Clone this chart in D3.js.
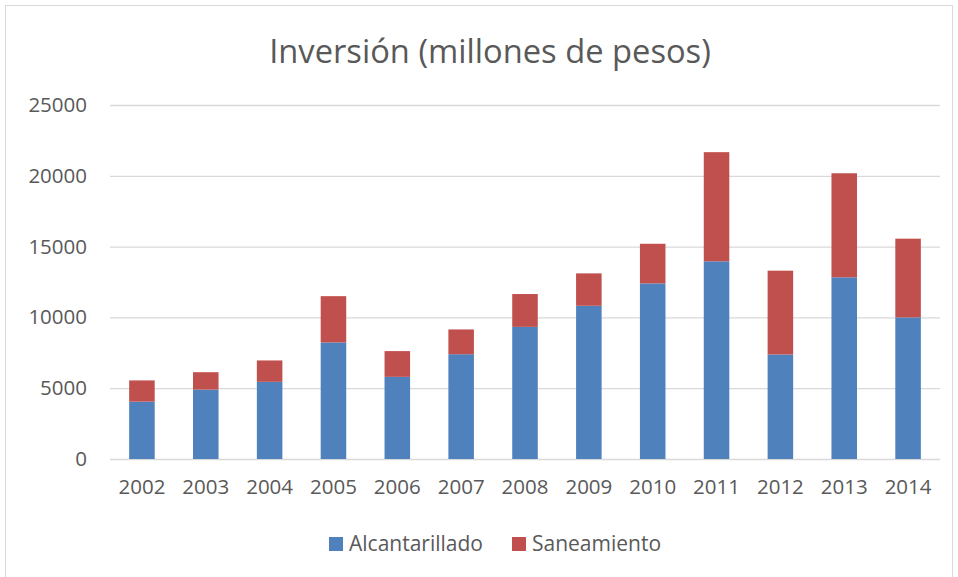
<!DOCTYPE html>
<html>
<head>
<meta charset="utf-8">
<script src="https://cdn.jsdelivr.net/npm/d3@7"></script>
<style>
  body { margin: 0; background: #fff; }
  svg text { font-family: "Open Sans", "Lato", sans-serif; }
</style>
</head>
<body>
<svg id="chart" width="958" height="577"></svg>
<script>
var years = ["2002", "2003", "2004", "2005", "2006", "2007", "2008", "2009", "2010", "2011", "2012", "2013", "2014"];
var alcantarillado = [4050, 4900, 5450, 8230, 5800, 7400, 9330, 10820, 12400, 13960, 7380, 12830, 10000];
var saneamiento = [1500, 1230, 1510, 3270, 1820, 1750, 2320, 2290, 2800, 7710, 5920, 7350, 5560];
var seriesNames = ["Alcantarillado", "Saneamiento"];
var yTicks = [0, 5000, 10000, 15000, 20000, 25000];
var colors = ["#4F81BD", "#C0504D"];

var svg = d3.select("#chart");
var margin = { left: 110, right: 18, top: 105, bottom: 118 };

svg.append("rect")
  .attr("x", 5.5).attr("y", 5.5)
  .attr("width", 947).attr("height", 580)
  .attr("fill", "#fff").attr("stroke", "#d9d9d9");

var rows = years.map(function (y, i) {
  return { year: y, Alcantarillado: alcantarillado[i], Saneamiento: saneamiento[i] };
});
var stacked = d3.stack().keys(seriesNames)(rows);

var x = d3.scaleBand().domain(years)
  .range([margin.left, 940])
  .paddingInner(0.6).paddingOuter(0.3);
var y = d3.scaleLinear().domain([0, 25000]).range([459, 105]);

// grid
svg.append("g").selectAll("line").data(yTicks).enter().append("line")
  .attr("x1", margin.left).attr("x2", 940)
  .attr("y1", function (d) { return y(d) + 0.5; })
  .attr("y2", function (d) { return y(d) + 0.5; })
  .attr("stroke", "#d9d9d9").attr("stroke-width", 1.3);

// bars
svg.append("g").selectAll("g").data(stacked).enter().append("g")
  .attr("fill", function (d, i) { return colors[i]; })
  .selectAll("rect").data(function (d) { return d; }).enter().append("rect")
  .attr("x", function (d) { return x(d.data.year); })
  .attr("width", x.bandwidth())
  .attr("y", function (d) { return y(d[1]); })
  .attr("height", function (d) { return y(d[0]) - y(d[1]); });

// y axis
var yAxis = svg.append("g")
  .attr("transform", "translate(" + margin.left + ",0)")
  .call(d3.axisLeft(y).tickValues(yTicks).tickSize(0).tickPadding(23).tickFormat(d3.format("d")));
yAxis.attr("font-family", null);
yAxis.select(".domain").remove();
yAxis.selectAll("text").attr("fill", "#595959").style("font-size", "20.5px");

// x axis
var xAxis = svg.append("g")
  .attr("transform", "translate(0,459)")
  .call(d3.axisBottom(x).tickSize(0).tickPadding(20));
xAxis.attr("font-family", null);
xAxis.select(".domain").remove();
xAxis.selectAll("text").attr("fill", "#595959").style("font-size", "20.5px");

// title
svg.append("text")
  .attr("x", 490).attr("y", 63)
  .attr("text-anchor", "middle")
  .attr("fill", "#595959")
  .style("font-size", "32.7px")
  .text("Inversión (millones de pesos)");

// legend
var legendX = [329, 512];
var legend = svg.append("g").selectAll("g").data(seriesNames).enter().append("g")
  .attr("transform", function (d, i) { return "translate(" + legendX[i] + ",537)"; });
legend.append("rect").attr("width", 14).attr("height", 14)
  .attr("fill", function (d, i) { return colors[i]; });
legend.append("text").attr("x", 20).attr("y", 14)
  .attr("fill", "#595959").style("font-size", "21px")
  .text(function (d) { return d; });
</script>
</body>
</html>
